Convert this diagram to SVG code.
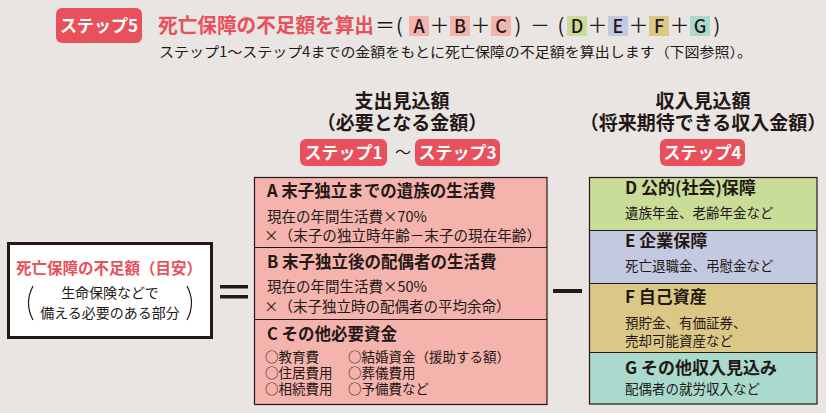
<svg xmlns="http://www.w3.org/2000/svg" width="826" height="413" viewBox="0 0 826 413">
<style>
text{font-family:"Noto Sans CJK JP","Noto Sans",sans-serif;fill:#231815}
.badge{fill:#e8505b}
.bt{fill:#fff;font-weight:700;font-size:17px;text-anchor:middle}
.red{fill:#e8505b}
.h{font-weight:700;font-size:19px;text-anchor:middle}
.bh{font-weight:700;font-size:16.5px}
.rh{font-weight:700;font-size:17px}
.s{font-size:14.5px}
.c{font-size:13.5px}
.r{font-size:13.5px}
.lt{font-size:18px;text-anchor:middle;font-weight:500}
.op{font-size:20px;text-anchor:middle}
.line{stroke:#231815;stroke-width:1.2;fill:none}
.pa{fill:#f4b3ad}.gr{fill:#c9dc98}.lv{fill:#c3c9e1}.tn{fill:#dcc886}.tl{fill:#a9dacd}
</style>
<rect width="826" height="413" fill="#e9e5e2"/>

<g id="header">
  <rect class="badge" x="56" y="8" width="86" height="35" rx="6"/>
  <text class="bt" x="99" y="31.5">ステップ5</text>
  <text class="red" x="158" y="33" font-size="20" font-weight="700" textLength="216" lengthAdjust="spacingAndGlyphs">死亡保障の不足額を算出</text>
  <rect class="pa" x="409" y="16" width="20" height="20"/>
  <rect class="pa" x="450" y="16" width="20" height="20"/>
  <rect class="pa" x="491" y="16" width="20" height="20"/>
  <rect class="gr" x="567" y="16" width="20" height="20"/>
  <rect class="lv" x="608" y="16" width="20" height="20"/>
  <rect class="tn" x="649" y="16" width="20" height="20"/>
  <rect class="tl" x="690" y="16" width="20" height="20"/>
  <text class="op" y="33"><tspan x="385">＝</tspan><tspan x="399.5">(</tspan><tspan x="439.5">＋</tspan><tspan x="480.5">＋</tspan><tspan x="518">)</tspan><tspan x="540">－</tspan><tspan x="561">(</tspan><tspan x="597.5">＋</tspan><tspan x="638.5">＋</tspan><tspan x="679.5">＋</tspan><tspan x="717">)</tspan></text>
  <text class="lt" y="33"><tspan x="419">A</tspan><tspan x="460">B</tspan><tspan x="501">C</tspan><tspan x="577">D</tspan><tspan x="618">E</tspan><tspan x="659">F</tspan><tspan x="700">G</tspan></text>
  <text x="159" y="57" font-size="14" textLength="593" lengthAdjust="spacingAndGlyphs">ステップ1～ステップ4までの金額をもとに死亡保障の不足額を算出します（下図参照）。</text>
</g>

<g id="expense-heading">
  <text class="h" x="402" y="108">支出見込額</text>
  <text class="h" x="402" y="130">（必要となる金額）</text>
  <rect class="badge" x="300" y="139" width="87" height="27" rx="6"/>
  <text class="bt" x="343.5" y="159">ステップ1</text>
  <text x="403" y="158" font-size="16" text-anchor="middle">～</text>
  <rect class="badge" x="415" y="139" width="85" height="27" rx="6"/>
  <text class="bt" x="457.5" y="159">ステップ3</text>
</g>

<g id="income-heading">
  <text class="h" x="703" y="108">収入見込額</text>
  <text class="h" x="703" y="130">（将来期待できる収入金額）</text>
  <rect class="badge" x="660" y="139" width="85" height="27" rx="6"/>
  <text class="bt" x="702.5" y="159">ステップ4</text>
</g>

<g id="shortfall">
  <rect x="8.5" y="243.5" width="203" height="94" fill="#fff" stroke="#231815" stroke-width="3"/>
  <text class="red" x="109" y="274" font-size="15.5" font-weight="700" text-anchor="middle">死亡保障の不足額（目安）</text>
  <text x="110" y="298" font-size="14" text-anchor="middle">生命保険などで</text>
  <text x="110" y="318" font-size="14" text-anchor="middle">備える必要のある部分</text>
  <path class="line" d="M33,286 Q24,303 33,320" stroke-width="1"/>
  <path class="line" d="M187,286 Q196,303 187,320" stroke-width="1"/>
</g>

<g id="connectors">
  <rect x="220" y="285" width="28" height="3.5" fill="#231815"/>
  <rect x="220" y="295" width="28" height="3.5" fill="#231815"/>
  <rect x="553" y="289" width="29" height="4" fill="#231815"/>
</g>

<g id="node-a">
  <rect class="pa" x="254.5" y="177.5" width="292.5" height="70"/>
  <text class="bh" x="267" y="197">A 末子独立までの遺族の生活費</text>
  <text class="s" x="267" y="222">現在の年間生活費×70%</text>
  <text class="s" x="264" y="241" textLength="277" lengthAdjust="spacingAndGlyphs">×（末子の独立時年齢－末子の現在年齢）</text>
</g>
<g id="node-b">
  <rect class="pa" x="254.5" y="247.5" width="292.5" height="72"/>
  <text class="bh" x="267" y="268">B 末子独立後の配偶者の生活費</text>
  <text class="s" x="267" y="292">現在の年間生活費×50%</text>
  <text class="s" x="264" y="312">×（末子独立時の配偶者の平均余命）</text>
</g>
<g id="node-c">
  <rect class="pa" x="254.5" y="319.5" width="292.5" height="85"/>
  <text class="bh" x="267" y="340">C その他必要資金</text>
  <text class="c"><tspan x="265" y="362">○教育費</tspan><tspan x="265" y="378">○住居費用</tspan><tspan x="265" y="394">○相続費用</tspan></text>
  <text class="c"><tspan x="348" y="362">○結婚資金（援助する額）</tspan><tspan x="348" y="378">○葬儀費用</tspan><tspan x="348" y="394">○予備費など</tspan></text>
</g>
<g id="expense-borders">
  <rect x="254.5" y="177.5" width="292.5" height="227" class="line"/>
  <line x1="254.5" y1="247.5" x2="547" y2="247.5" class="line"/>
  <line x1="254.5" y1="319.5" x2="547" y2="319.5" class="line"/>
</g>

<g id="node-d">
  <rect class="gr" x="589.5" y="177.5" width="227.5" height="53"/>
  <text class="rh" x="625" y="194">D 公的(社会)保障</text>
  <text class="r" x="625" y="218">遺族年金、老齢年金など</text>
</g>
<g id="node-e">
  <rect class="lv" x="589.5" y="230.5" width="227.5" height="53"/>
  <text class="rh" x="625" y="247">E 企業保障</text>
  <text class="r" x="625" y="271">死亡退職金、弔慰金など</text>
</g>
<g id="node-f">
  <rect class="tn" x="589.5" y="283.5" width="227.5" height="69"/>
  <text class="rh" x="625" y="303">F 自己資産</text>
  <text class="r"><tspan x="625" y="328">預貯金、有価証券、</tspan><tspan x="625" y="346">売却可能資産など</tspan></text>
</g>
<g id="node-g">
  <rect class="tl" x="589.5" y="352.5" width="227.5" height="51.5"/>
  <text class="rh" x="625" y="374">G その他収入見込み</text>
  <text class="r" x="625" y="394">配偶者の就労収入など</text>
</g>
<g id="income-borders">
  <rect x="589.5" y="177.5" width="227.5" height="226.5" class="line"/>
  <line x1="589.5" y1="230.5" x2="817" y2="230.5" class="line"/>
  <line x1="589.5" y1="283.5" x2="817" y2="283.5" class="line"/>
  <line x1="589.5" y1="352.5" x2="817" y2="352.5" class="line"/>
</g>
</svg>
